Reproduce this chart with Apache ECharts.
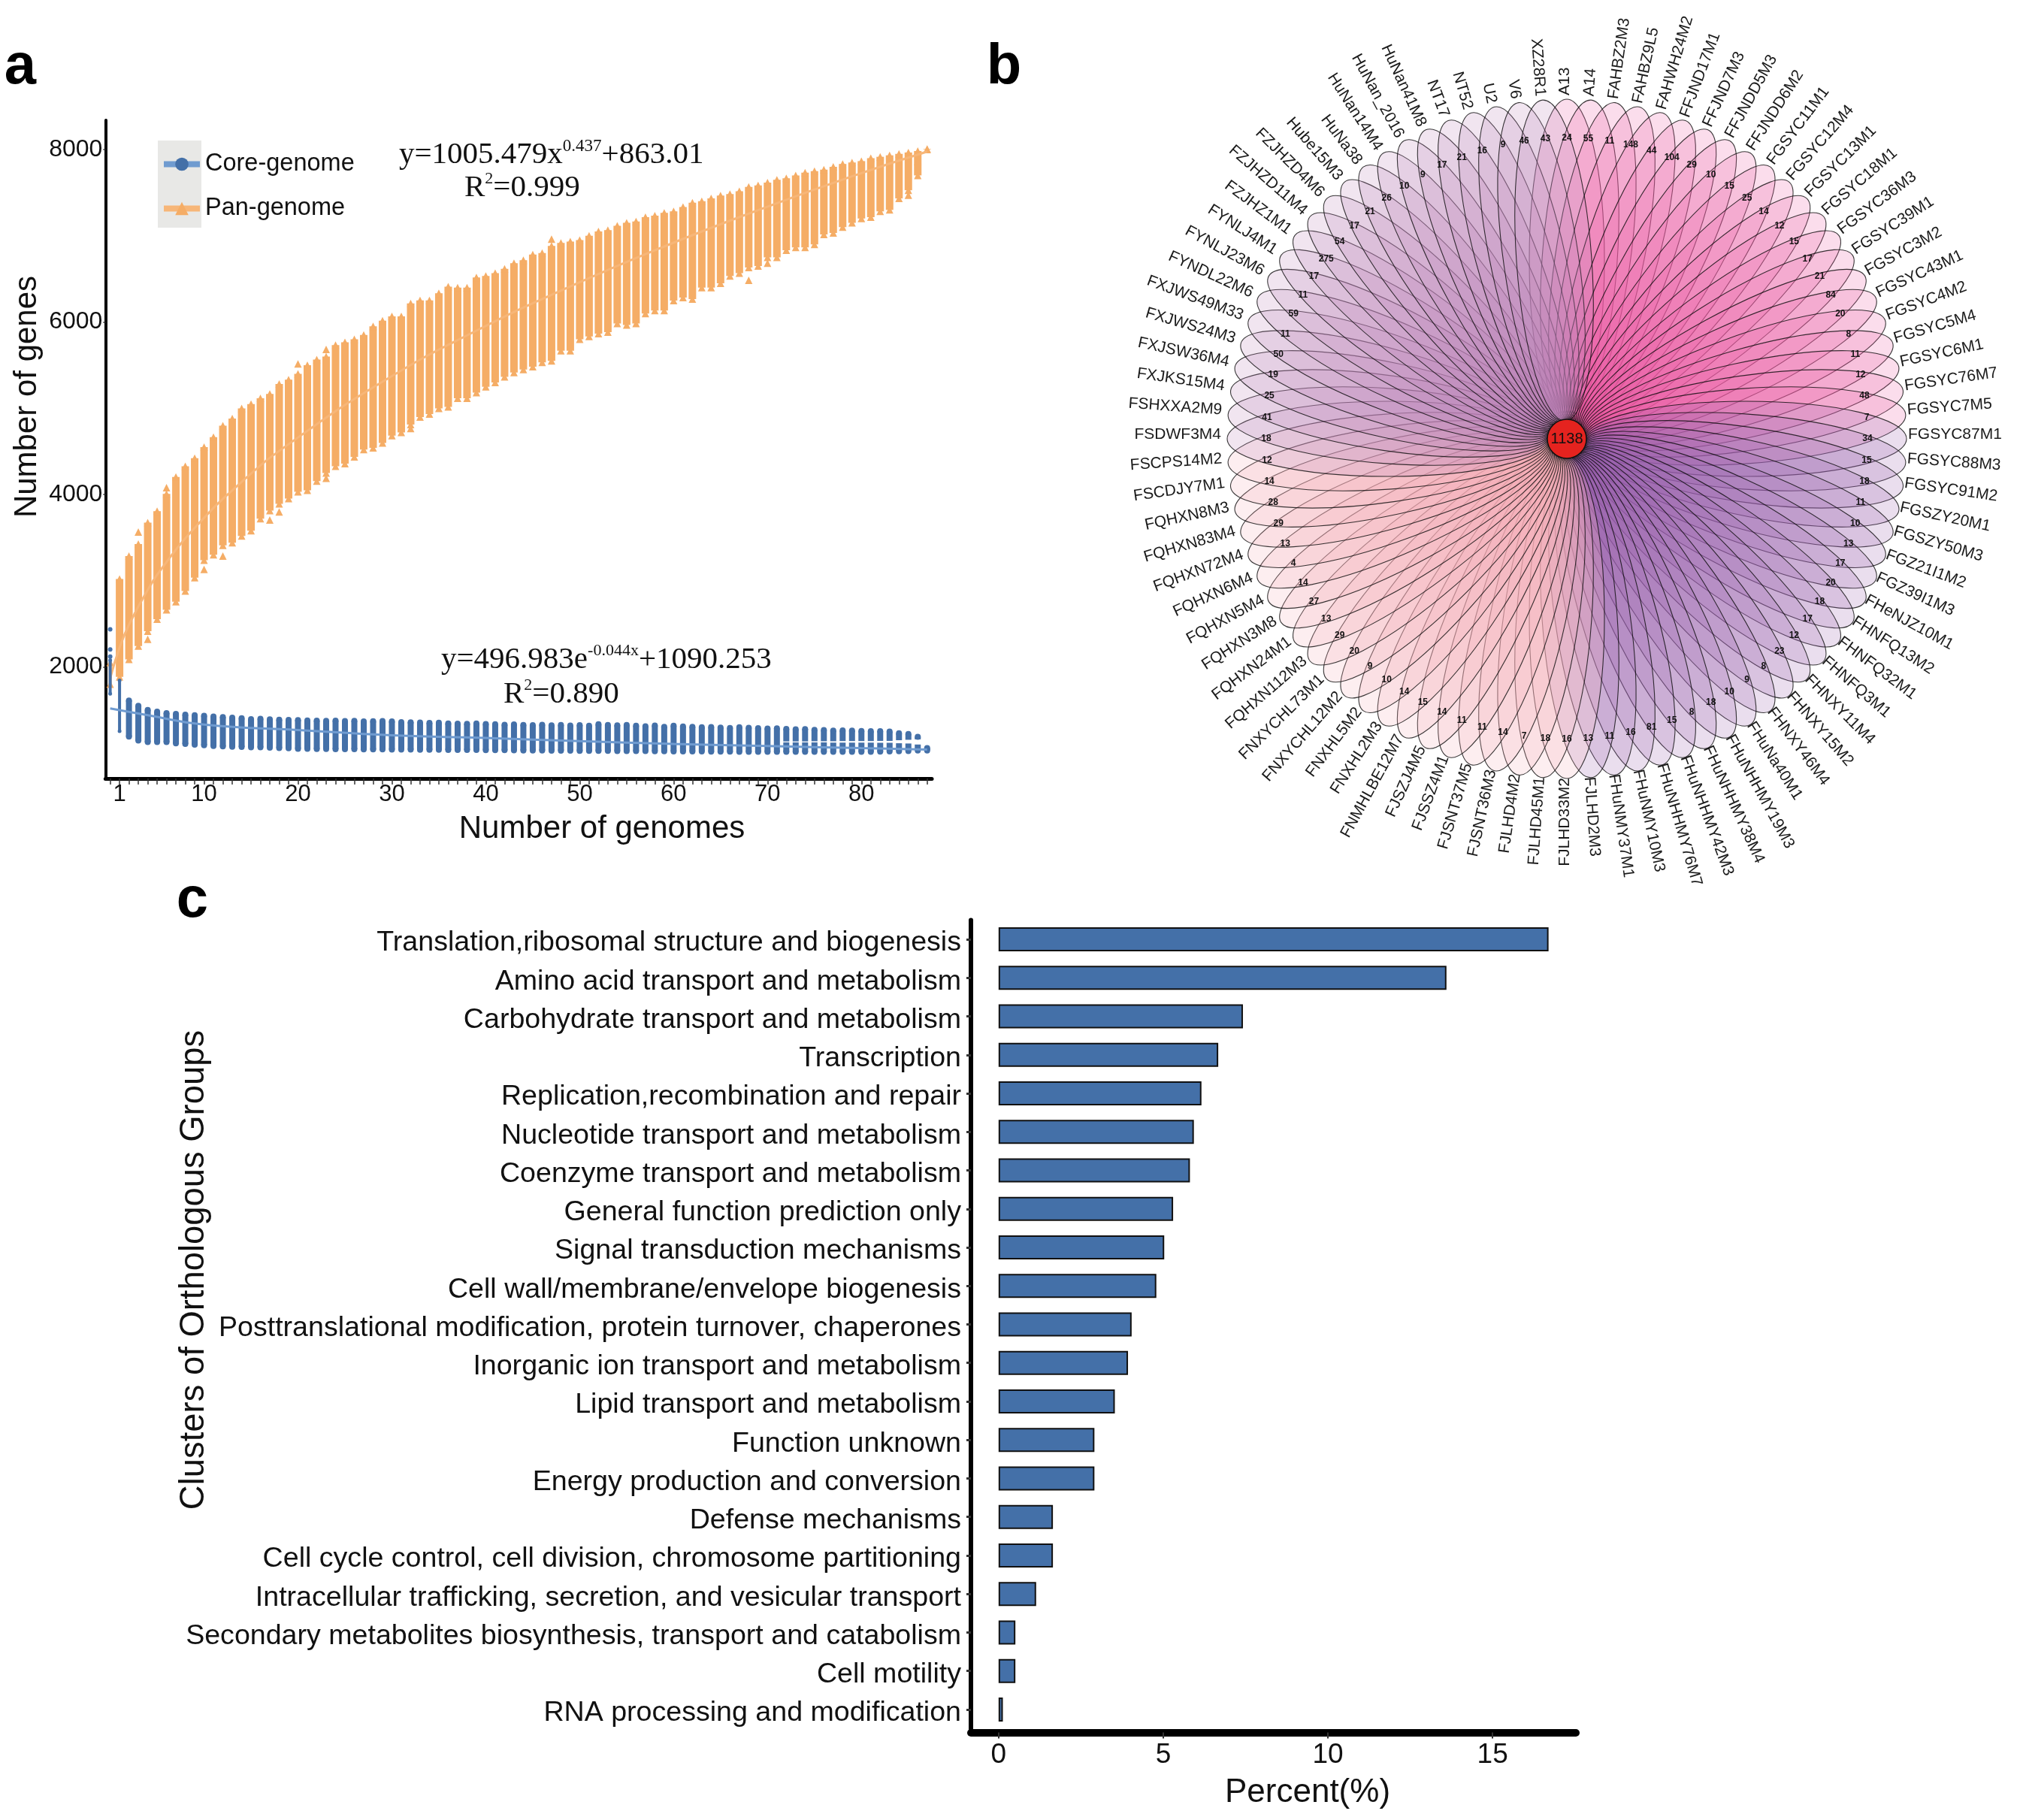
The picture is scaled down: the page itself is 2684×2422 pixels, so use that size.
<!DOCTYPE html>
<html>
<head>
<meta charset="utf-8">
<style>html,body{margin:0;padding:0;background:#fff}#c{width:2684px;height:2422px}</style>
<script src="https://cdn.jsdelivr.net/npm/echarts@6/dist/echarts.min.js"></script>
</head>
<body>
<div id="c"></div>
<script>
// ---------- panel a: pan/core genome ----------
const genomeCategories = ['0','1','2','3','4','5','6','7','8','9','10','11','12','13','14','15','16','17','18','19','20','21','22','23','24','25','26','27','28','29','30','31','32','33','34','35','36','37','38','39','40','41','42','43','44','45','46','47','48','49','50','51','52','53','54','55','56','57','58','59','60','61','62','63','64','65','66','67','68','69','70','71','72','73','74','75','76','77','78','79','80','81','82','83','84','85','86','87'];
const genomeTickLabels = ['1','10','20','30','40','50','60','70','80'];
const geneTickValues = [2000,4000,6000,8000];
const panMax = [2050,3020,3285,3425,3673,3807,4006,4202,4327,4420,4550,4665,4798,4880,4998,5049,5115,5165,5282,5332,5399,5498,5565,5599,5732,5765,5799,5849,5949,6016,6066,6066,6216,6250,6250,6333,6409,6399,6399,6516,6533,6566,6616,6683,6716,6783,6800,6883,6917,6933,6950,7000,7050,7066,7116,7150,7166,7216,7233,7266,7283,7333,7383,7400,7433,7466,7483,7516,7566,7583,7616,7650,7666,7700,7733,7750,7766,7800,7833,7850,7866,7900,7916,7933,7950,7966,7983,8006];
const panMin = [1800,1885,2087,2243,2414,2554,2663,2756,2880,3036,3238,3300,3409,3440,3518,3580,3720,3813,3891,3953,4031,4047,4155,4249,4327,4358,4435,4520,4540,4598,4682,4720,4810,4898,4932,4998,5015,5115,5115,5182,5249,5299,5365,5415,5449,5482,5532,5549,5666,5666,5799,5832,5866,5883,5982,5966,5982,6099,6132,6132,6249,6283,6266,6399,6399,6449,6533,6566,6633,6649,6749,6749,6833,6866,6866,6900,7016,7033,7100,7150,7200,7216,7283,7300,7433,7528,7700,8000];
const panOutliers = [[3,3564],[4,2321],[6,4078],[10,3130],[12,3285],[17,3703],[18,3798],[20,5515],[23,4187],[23,5682],[32,4765],[47,6960],[68,6483],[70,6683],[85,7470],[86,7860]];
const panFit = [[0,1868],[1,2224],[2,2488],[4,2894],[6,3216],[9,3613],[14,4146],[19,4583],[29,5307],[39,5900],[49,6413],[59,6876],[69,7298],[79,7690],[87,7976]];
const coreMax = [2078,1844,1611,1549,1502,1481,1465,1456,1446,1440,1434,1425,1418,1412,1405,1394,1398,1392,1388,1386,1384,1380,1378,1375,1378,1372,1374,1368,1370,1372,1369,1360,1358,1355,1350,1352,1345,1342,1340,1345,1338,1335,1330,1334,1328,1325,1330,1322,1326,1320,1325,1318,1335,1328,1322,1326,1318,1312,1320,1306,1318,1310,1305,1300,1302,1296,1292,1300,1295,1290,1285,1288,1282,1276,1280,1270,1268,1262,1264,1262,1258,1254,1256,1250,1230,1222,1190,1060];
const coreMin = [1689,1254,1191,1145,1129,1129,1129,1114,1107,1098,1092,1083,1078,1075,1072,1068,1067,1064,1060,1056,1051,1050,1048,1049,1046,1045,1046,1044,1043,1044,1042,1042,1041,1040,1040,1039,1038,1038,1037,1037,1036,1035,1034,1033,1031,1030,1030,1029,1028,1028,1027,1027,1026,1026,1025,1024,1024,1023,1022,1021,1020,1020,1019,1019,1018,1018,1017,1016,1016,1015,1015,1015,1015,1015,1015,1015,1015,1015,1015,1015,1015,1016,1018,1020,1022,1025,1030,1030];
const coreGaps = [[72,1125,1136],[73,1125,1136],[74,1125,1136],[75,1125,1138],[76,1125,1138],[77,1122,1138],[78,1122,1140],[79,1122,1140],[80,1122,1140],[81,1122,1140],[82,1120,1142],[83,1120,1142],[84,1115,1150],[85,1112,1155],[86,1100,1160]];
const coreOutliers = [[0,2435],[0,2202],[0,2120]];
const coreFit = [[0,1518],[4,1440],[10,1331],[20,1269],[30,1207],[40,1176],[50,1139],[60,1107],[70,1083],[80,1058],[87,1042]];

// ---------- panel b: flower plot ----------
const strainNames = ['A13','A14','FAHBZ2M3','FAHBZ9L5','FAHWH24M2','FFJND17M1','FFJND7M3','FFJNDD5M3','FFJNDD6M2','FGSYC11M1','FGSYC12M4','FGSYC13M1','FGSYC18M1','FGSYC36M3','FGSYC39M1','FGSYC3M2','FGSYC43M1','FGSYC4M2','FGSYC5M4','FGSYC6M1','FGSYC76M7','FGSYC7M5','FGSYC87M1','FGSYC88M3','FGSYC91M2','FGSZY20M1','FGSZY50M3','FGZ21I1M2','FGZ39I1M3','FHeNJZ10M1','FHNFQ13M2','FHNFQ32M1','FHNFQ3M1','FHNXY11M4','FHNXY15M2','FHNXY46M4','FHuNa40M1','FHuNHHMY19M3','FHuNHHMY38M4','FHuNHHMY42M3','FHuNHHMY76M7','FHuNMY10M3','FHuNMY37M1','FJLHD2M3','FJLHD33M2','FJLHD45M1','FJLHD4M2','FJSNT36M3','FJSNT37M5','FJSSZ4M1','FJSZJ4M5','FNMHLBE12M7','FNXHL2M3','FNXHL5M2','FNXYCHL12M2','FNXYCHL73M1','FQHXN112M3','FQHXN24M1','FQHXN3M8','FQHXN5M4','FQHXN6M4','FQHXN72M4','FQHXN83M4','FQHXN8M3','FSCDJY7M1','FSCPS14M2','FSDWF3M4','FSHXXA2M9','FXJKS15M4','FXJSW36M4','FXJWS24M3','FXJWS49M33','FYNDL22M6','FYNLJ23M6','FYNLJ4M1','FZJHZ1M1','FZJHZD11M4','FZJHZD4M6','Hube15M3','HuNa38','HuNan14M4','HuNan_2016','HuNan41M8','NT17','NT52','U2','V6','XZ28R1'];
const strainCounts = [24,55,11,148,44,104,29,10,15,25,14,12,15,17,21,84,20,8,11,12,48,7,34,15,18,11,10,13,17,20,18,17,12,23,8,9,10,18,8,15,81,16,11,13,16,18,7,14,11,11,14,15,14,10,9,20,29,13,27,14,4,13,29,28,14,12,18,41,25,19,50,11,59,11,17,275,54,17,21,26,10,9,17,21,16,9,46,43];
const coreGeneCount = 1138;

// ---------- panel c: COG ----------
const cogCategories = ['Translation,ribosomal structure and biogenesis','Amino acid transport and metabolism','Carbohydrate transport and metabolism','Transcription','Replication,recombination and repair','Nucleotide transport and metabolism','Coenzyme transport and metabolism','General function prediction only','Signal transduction mechanisms','Cell wall/membrane/envelope biogenesis','Posttranslational modification, protein turnover, chaperones','Inorganic ion transport and metabolism','Lipid transport and metabolism','Function unknown','Energy production and conversion','Defense mechanisms','Cell cycle control, cell division, chromosome partitioning','Intracellular trafficking, secretion, and vesicular transport','Secondary metabolites biosynthesis, transport and catabolism','Cell motility','RNA processing and modification'];
const cogPercent = [16.7,13.6,7.42,6.67,6.16,5.93,5.81,5.3,5.03,4.79,4.04,3.93,3.53,2.91,2.91,1.65,1.65,1.14,0.51,0.51,0.13];
const percentTicks = [0,5,10,15];

// ---------- styles ----------
const SANS = '"Liberation Sans", Arial, sans-serif';
const SERIF = '"Liberation Serif", "Times New Roman", serif';
const BLUE = '#4470a8', ORANGE = '#f5ad66';
const petalFill = ['rgba(233,85,159,0.2)','rgba(150,92,172,0.2)','rgba(245,170,180,0.2)','rgba(185,125,180,0.2)'];
const PETAL_TIP = 452, PETAL_INNER = 24, PETAL_MINOR = 50, COUNT_R = 400, NAME_R = 457;

function rangeItem(width, color, thinUntil, thinWidth){
  return function(params, api){
    const i = api.value(0);
    const w = i < thinUntil ? thinWidth : width;
    const a = api.coord([i, api.value(1)]);
    const b = api.coord([i, api.value(2)]);
    return {type:'rect', shape:{x:a[0]-w/2, y:b[1], width:w, height:a[1]-b[1]}, style:{fill:color}};
  };
}
const panRanges = panMax.map((v,i)=>[i,panMin[i],v]);
const coreRanges = [];
coreMax.forEach((v,i)=>{
  const g = coreGaps.find(d=>d[0]===i);
  if(g){coreRanges.push([i,coreMin[i],g[1]]);coreRanges.push([i,g[2],v]);}
  else coreRanges.push([i,coreMin[i],v]);
});

function petal(params, api){
  const i = api.value(1);
  const inner = api.coord([PETAL_INNER,i]);
  const tip = api.coord([PETAL_TIP,i]);
  const dx = tip[0]-inner[0], dy = tip[1]-inner[1];
  const len = Math.hypot(dx,dy);
  return {type:'ellipse', x:(tip[0]+inner[0])/2, y:(tip[1]+inner[1])/2, rotation:-Math.atan2(dy,dx),
    shape:{cx:0,cy:0,rx:len/2,ry:PETAL_MINOR},
    style:{fill:petalFill[Math.floor(params.dataIndex/22)], stroke:'rgba(10,10,10,0.8)', lineWidth:1.1}};
}
function outerName(params, api){
  const i = api.value(1);
  const c = api.coord([0,i]);
  const p = api.coord([NAME_R,i]);
  const phi = -Math.atan2(p[1]-c[1],p[0]-c[0]);
  const right = params.dataIndex < 44;
  const upness = Math.max(0,(c[1]-p[1])/NAME_R);
  return {type:'text', x:p[0]-3, y:p[1]-6+6*upness, rotation: right?phi:phi+Math.PI,
    style:{text:strainNames[params.dataIndex], fill:'#1a1a1a', fontSize:21, fontFamily:SANS, align:right?'left':'right', verticalAlign:'middle'}};
}
function countLabel(params, api){
  const p = api.coord([COUNT_R, api.value(1)]);
  return {type:'text', x:p[0], y:p[1],
    style:{text:String(strainCounts[params.dataIndex]), fill:'#111', fontSize:12, fontWeight:'bold', fontFamily:SANS, align:'center', verticalAlign:'middle'}};
}
const flowerData = strainNames.map((n,i)=>[0,i]);

function txt(text,x,y,size,opt){
  return {type:'text', x:x, y:y, rotation:(opt&&opt.rotation)||0, silent:true, z:10,
    style:Object.assign({text:text, fill:'#111', fontSize:size, fontFamily:SANS, align:'center', verticalAlign:'middle'}, (opt&&opt.style)||{})};
}
function eq(text,x,y,sup){
  return {type:'text', x:x, y:y, silent:true, z:10, style:{text:text, align:'left', verticalAlign:'middle', fill:'#111',
    rich:{a:{fontFamily:SERIF,fontSize:41,fill:'#111',lineHeight:44,verticalAlign:'bottom'},
          s:{fontFamily:SERIF,fontSize:sup,fill:'#111',lineHeight:44,verticalAlign:'top'}}}};
}

const option = {
  animation:false,
  backgroundColor:'#fff',
  legend:{
    show:true, orient:'vertical', left:214, top:202, padding:0, itemWidth:48, itemHeight:22, itemGap:26,
    data:['Core-genome','Pan-genome'],
    textStyle:{fontFamily:SANS,fontSize:32.5,color:'#111',padding:[0,0,0,2]},
    lineStyle:{width:8}
  },
  grid:[
    {left:140.35, right:1444, top:160, bottom:1386},
    {left:1292, right:587, top:1224.4, bottom:121.4}
  ],
  polar:{center:[2085,584], radius:PETAL_TIP},
  angleAxis:{type:'category', data:strainNames, boundaryGap:false, startAngle:90, clockwise:true, show:false},
  radiusAxis:{type:'value', min:0, max:PETAL_TIP, show:false},
  xAxis:[
    {type:'category', gridIndex:0, data:genomeCategories,
      axisLine:{onZero:false,lineStyle:{color:'#000',width:5}},
      axisTick:{show:true,alignWithLabel:true,interval:0,length:8,lineStyle:{color:'#333',width:1.5}},
      axisLabel:{interval:(i,n)=>genomeTickLabels.includes(n),fontFamily:SANS,fontSize:31,color:'#111',margin:6},
      splitLine:{show:false}},
    {type:'value', gridIndex:1, min:-0.84, max:17.53, offset:5,
      axisLine:{show:true,onZero:false,lineStyle:{color:'#000',width:10}},
      axisTick:{show:true,customValues:percentTicks,length:8,lineStyle:{color:'#333',width:2}},
      axisLabel:{customValues:percentTicks,showMinLabel:true,showMaxLabel:true,fontFamily:SANS,fontSize:37,color:'#111',margin:12},
      splitLine:{show:false}}
  ],
  yAxis:[
    {type:'value', gridIndex:0, min:706, max:8340,
      axisLine:{show:true,onZero:false,lineStyle:{color:'#000',width:4}},
      axisTick:{show:true,customValues:geneTickValues,length:3,lineStyle:{color:'#333',width:1.5}},
      axisLabel:{customValues:geneTickValues,formatter:v=>String(v),fontFamily:SANS,fontSize:32,color:'#111',margin:4},
      splitLine:{show:false}},
    {type:'category', gridIndex:1, data:cogCategories, inverse:true,
      axisLine:{show:true,onZero:false,lineStyle:{color:'#000',width:6}},
      axisTick:{show:true,alignWithLabel:true,length:6,lineStyle:{color:'#333',width:3}},
      axisLabel:{interval:0,color:'#111',margin:13,formatter:v=>'{t|'+v+'}',
        rich:{t:{fontFamily:SANS,fontSize:37.6,color:'#111',padding:[10,0,0,0]}}},
      splitLine:{show:false}}
  ],
  series:[
    {type:'custom', name:'panRange', xAxisIndex:0, yAxisIndex:0, data:panRanges, renderItem:rangeItem(10,ORANGE,1,4), encode:{x:0,y:[1,2]}, z:2},
    {type:'scatter', name:'panTop', xAxisIndex:0, yAxisIndex:0, symbol:'triangle', symbolSize:10, itemStyle:{color:ORANGE,opacity:1}, data:panMax.map((v,i)=>[i,v]), z:2},
    {type:'scatter', name:'panBottom', xAxisIndex:0, yAxisIndex:0, symbol:'triangle', symbolSize:10, itemStyle:{color:ORANGE,opacity:1}, data:panMin.map((v,i)=>[i,v]), z:2},
    {type:'scatter', name:'panOut', xAxisIndex:0, yAxisIndex:0, symbol:'triangle', symbolSize:10, itemStyle:{color:ORANGE,opacity:1}, data:panOutliers, z:2},
    {type:'line', name:'Pan-genome', xAxisIndex:0, yAxisIndex:0, data:panFit, smooth:true, symbol:'triangle', showSymbol:false, lineStyle:{color:'#f7b678',width:3}, itemStyle:{color:ORANGE}, z:3},
    {type:'custom', name:'coreRange', xAxisIndex:0, yAxisIndex:0, data:coreRanges, renderItem:rangeItem(8,BLUE,2,4), encode:{x:0,y:[1,2]}, z:4},
    {type:'scatter', name:'coreTop', xAxisIndex:0, yAxisIndex:0, symbol:'circle', symbolSize:v=>v[0]<2?5:8, itemStyle:{color:BLUE,opacity:1}, data:coreMax.map((v,i)=>[i,v]), z:4},
    {type:'scatter', name:'coreBottom', xAxisIndex:0, yAxisIndex:0, symbol:'circle', symbolSize:v=>v[0]<2?5:8, itemStyle:{color:BLUE,opacity:1}, data:coreMin.map((v,i)=>[i,v]), z:4},
    {type:'scatter', name:'coreOut', xAxisIndex:0, yAxisIndex:0, symbol:'circle', symbolSize:6, itemStyle:{color:BLUE,opacity:1}, data:coreOutliers, z:4},
    {type:'line', name:'Core-genome', xAxisIndex:0, yAxisIndex:0, data:coreFit, smooth:true, symbol:'circle', showSymbol:false, lineStyle:{color:'#6f9bd0',width:3}, itemStyle:{color:BLUE}, z:5},

    {type:'custom', name:'petals', coordinateSystem:'polar', data:flowerData, encode:{radius:0,angle:1}, renderItem:petal, z:2},
    {type:'custom', name:'counts', coordinateSystem:'polar', data:flowerData, encode:{radius:0,angle:1}, renderItem:countLabel, z:3},
    {type:'custom', name:'names', coordinateSystem:'polar', data:flowerData, encode:{radius:0,angle:1}, renderItem:outerName, z:3},
    {type:'scatter', name:'coreGenes', coordinateSystem:'polar', symbol:'circle', symbolSize:52, data:[[0,0]], z:6,
      itemStyle:{color:'#e5231f',opacity:1,borderColor:'#111',borderWidth:1.5},
      label:{show:true,position:'inside',formatter:String(coreGeneCount),fontFamily:SANS,fontSize:20,color:'#111'}},

    {type:'bar', name:'Percent', xAxisIndex:1, yAxisIndex:1, data:cogPercent, barWidth:32,
      itemStyle:{color:BLUE,borderColor:'#111',borderWidth:2}, z:2}
  ],
  graphic:{elements:[
    {type:'rect', shape:{x:210,y:187,width:58,height:116}, style:{fill:'#e8e8e6'}, silent:true, z:1},
    txt('a',27,90,76,{style:{fontWeight:'bold',fill:'#000'}}),
    txt('b',1336,90,76,{style:{fontWeight:'bold',fill:'#000'}}),
    txt('c',256,1199,76,{style:{fontWeight:'bold',fill:'#000'}}),
    txt('Number of genes',36,528,42,{rotation:Math.PI/2}),
    txt('Number of genomes',801,1103,42),
    txt('Clusters of Orthologous Groups',258,1690,45.4,{rotation:Math.PI/2}),
    txt('Percent(%)',1740,2386,44),
    eq('{a|y=1005.479x}{s|0.437}{a|+863.01}',531,205,23),
    eq('{a|R}{s|2}{a|=0.999}',618,249,22),
    eq('{a|y=496.983e}{s|-0.044x}{a|+1090.253}',587,877,22),
    eq('{a|R}{s|2}{a|=0.890}',670,923,22)
  ]}
};
const chart = echarts.init(document.getElementById('c'), null, {renderer:'canvas', width:2684, height:2422});
chart.setOption(option);
</script>
</body>
</html>
